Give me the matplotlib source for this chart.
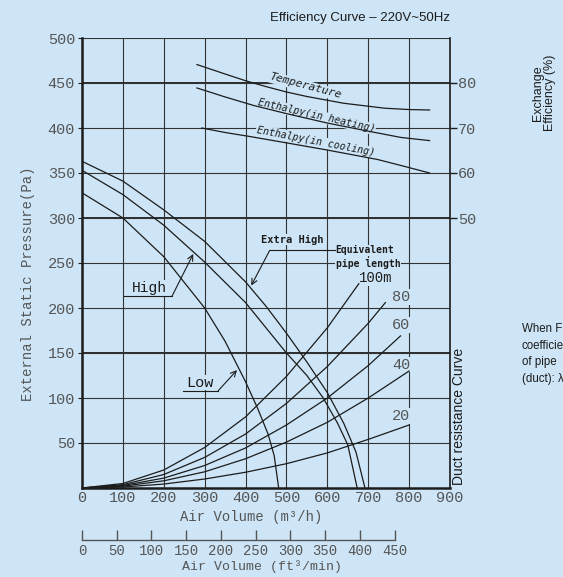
import matplotlib.pyplot as plt

# pressure scale (Pa) and air volume scale (m3/h)
pa_ticks = [50, 100, 150, 200, 250, 300, 350, 400, 450, 500]
m3h_ticks = [0, 100, 200, 300, 400, 500, 600, 700, 800, 900]
cfm_ticks = [0, 50, 100, 150, 200, 250, 300, 350, 400, 450]
eff_ticks = [50, 60, 70, 80]

# fan curves (air volume m3/h, pressure Pa)
xhigh_x = [0, 100, 200, 300, 400, 450, 500, 550, 600, 640, 670, 692]
xhigh_p = [363, 341, 309, 274, 229, 202, 172, 140, 106, 72, 40, 0]
high_x = [0, 100, 200, 300, 400, 450, 500, 550, 590, 625, 650, 673]
high_p = [353, 326, 292, 251, 206, 178, 150, 125, 100, 72, 48, 0]
low_x = [0, 100, 200, 300, 350, 400, 430, 455, 470, 481]
low_p = [328, 300, 257, 200, 163, 118, 88, 60, 36, 0]

# duct resistance curves by equivalent pipe length
duct_100_x = [0, 100, 200, 300, 400, 500, 600, 677]
duct_100_p = [0, 5, 20, 45, 79, 124, 178, 227]
duct_80_x = [0, 100, 200, 300, 400, 500, 600, 700, 742]
duct_80_p = [0, 3.7, 15, 34, 60, 94, 135, 183, 206]
duct_60_x = [0, 100, 200, 300, 400, 500, 600, 700, 779]
duct_60_p = [0, 2.8, 11, 25, 44.5, 70, 100, 136, 169]
duct_40_x = [0, 100, 200, 300, 400, 500, 600, 700, 800]
duct_40_p = [0, 2, 8, 18, 32.5, 51, 73, 100, 130]
duct_20_x = [0, 100, 200, 300, 400, 500, 600, 700, 800]
duct_20_p = [0, 1.1, 4.4, 10, 17.5, 27, 39, 54, 70]

# exchange efficiency curves (air volume m3/h, %)
temp_x = [281, 350, 400, 450, 500, 550, 640, 740, 800, 850]
temp_e = [84.1, 82.0, 80.5, 79.2, 78.0, 77.0, 75.5, 74.4, 74.1, 74.0]
heat_x = [281, 350, 420, 500, 600, 700, 780, 850]
heat_e = [78.9, 76.9, 75.0, 73.2, 71.1, 69.3, 67.9, 67.2]
cool_x = [293, 350, 411, 500, 600, 723, 800, 850]
cool_e = [70.0, 69.0, 68.1, 66.7, 65.1, 63.0, 61.2, 60.0]

bg = '#cde5f6'
ink = '#1c1c1c'
grey = '#555555'
mono = 'Liberation Mono'
cad = 'DejaVu Sans Mono'
sans = 'Liberation Sans'
box = dict(fc=bg, ec='none', pad=0.6)

fig = plt.figure(figsize=(5.63, 5.77), dpi=100, facecolor=bg)
ax = fig.add_axes([82/563, 89/577, 368/563, 450/577])
ax.set_facecolor(bg)
ax.set_xlim(0, 900)
ax.set_ylim(0, 500)
ax.set_xticks(m3h_ticks)
ax.set_yticks(pa_ticks)
ax.tick_params(axis='x', length=0, pad=2, labelsize=11, labelcolor=grey)
ax.tick_params(axis='y', length=3, width=0.8, color=ink, pad=2, labelsize=11, labelcolor=grey)
for lab in ax.get_xticklabels() + ax.get_yticklabels():
    lab.set_family(mono)
ax.spines['top'].set_visible(False)
for s in ['left', 'bottom']:
    ax.spines[s].set_linewidth(1.8)
    ax.spines[s].set_color(ink)
ax.spines['right'].set_linewidth(1.2)
ax.spines['right'].set_color(ink)
ax.grid(True, color='#333333', lw=0.8)
for y in [150, 300, 450]:
    ax.axhline(y, color=ink, lw=1.3, zorder=0.6)

lw = 0.9
ax.plot(xhigh_x, xhigh_p, color=ink, lw=lw, zorder=3)
ax.plot(high_x, high_p, color=ink, lw=lw, zorder=3)
ax.plot(low_x, low_p, color=ink, lw=lw, zorder=3)
for dx, dp in [(duct_100_x, duct_100_p), (duct_80_x, duct_80_p), (duct_60_x, duct_60_p),
               (duct_40_x, duct_40_p), (duct_20_x, duct_20_p)]:
    ax.plot(dx, dp, color=ink, lw=lw, zorder=3)

# fan curve labels
arr = dict(arrowstyle='->', lw=0.8, color=ink, shrinkA=0, shrinkB=0)
ax.text(165, 222, 'High', family=mono, fontsize=10.5, color=ink, ha='center', va='center', bbox=box, zorder=2)
ax.plot([102, 220], [213, 213], color=ink, lw=0.8, zorder=3)
ax.annotate('', xy=(272, 260), xytext=(220, 213), arrowprops=arr, zorder=3)
ax.text(288, 117, 'Low', family=mono, fontsize=11, color=ink, ha='center', va='center', bbox=box, zorder=2)
ax.plot([247, 333], [108, 108], color=ink, lw=0.8, zorder=3)
ax.annotate('', xy=(379, 131), xytext=(333, 108), arrowprops=arr, zorder=3)
ax.text(515, 276, 'Extra High', family=cad, fontsize=7.5, weight='bold', color=ink,
        ha='center', va='center', bbox=box, zorder=2)
ax.plot([459, 618], [264, 264], color=ink, lw=0.8, zorder=3)
ax.annotate('', xy=(414, 225), xytext=(459, 264), arrowprops=arr, zorder=3)
ax.text(620, 264, 'Equivalent', family=cad, fontsize=7, weight='bold', color=ink,
        ha='left', va='center', bbox=box, zorder=2)
ax.text(620, 249, 'pipe length', family=cad, fontsize=7, weight='bold', color=ink,
        ha='left', va='center', bbox=box, zorder=2)
ax.text(718, 233, '100m', family=mono, fontsize=10, color=ink, ha='center', va='center', bbox=box, zorder=2)
for lab, y in [('80', 212), ('60', 181), ('40', 137), ('20', 80)]:
    ax.text(780, y, lab, family=mono, fontsize=11, color=grey, ha='center', va='center', bbox=box, zorder=2)

# efficiency axis
ax2 = ax.twinx()
ax2.set_ylim(-10, 90)
ax2.set_yticks(eff_ticks)
ax2.tick_params(axis='y', length=5, width=1.0, color=ink, pad=1, labelsize=11, labelcolor=grey)
for lab in ax2.get_yticklabels():
    lab.set_family(mono)
for s in ax2.spines.values():
    s.set_visible(False)
ax2.plot(temp_x, temp_e, color=ink, lw=lw, zorder=3)
ax2.plot(heat_x, heat_e, color=ink, lw=lw, zorder=3)
ax2.plot(cool_x, cool_e, color=ink, lw=lw, zorder=3)
ax2.text(545, 79.3, 'Temperature', family=cad, style='italic', fontsize=8, color=ink,
         rotation=-15, rotation_mode='anchor', ha='center', va='center', bbox=box, zorder=2)
ax2.text(573, 72.7, 'Enthalpy(in heating)', family=cad, style='italic', fontsize=7.2, color=ink,
         rotation=-13, rotation_mode='anchor', ha='center', va='center', bbox=box, zorder=2)
ax2.text(571, 67.0, 'Enthalpy(in cooling)', family=cad, style='italic', fontsize=7.2, color=ink,
         rotation=-11, rotation_mode='anchor', ha='center', va='center', bbox=box, zorder=2)

# secondary air volume scale in ft3/min
ax3 = fig.add_axes([82/563, 37/577, 368/563, 0.001])
ax3.patch.set_visible(False)
ax3.set_xlim(0, 900 / 1.699)
ax3.set_xticks(cfm_ticks)
ax3.set_yticks([])
for s in ['top', 'left', 'right']:
    ax3.spines[s].set_visible(False)
ax3.spines['bottom'].set_bounds(0, 450)
ax3.spines['bottom'].set_color(grey)
ax3.spines['bottom'].set_linewidth(1.0)
ax3.tick_params(axis='x', direction='in', length=7, width=1.0, color=grey, pad=3,
                labelsize=10, labelcolor=grey)
for lab in ax3.get_xticklabels():
    lab.set_family(mono)

# axis titles and side notes
fig.text(28/563, 1 - 284/577, 'External Static Pressure(Pa)', family=mono, fontsize=10,
         color=grey, rotation=90, ha='center', va='center')
fig.text(251/563, 1 - 517/577, 'Air Volume (m\u00b3/h)', family=mono, fontsize=10,
         color=grey, ha='center', va='center')
fig.text(262/563, 1 - 567/577, 'Air Volume (ft\u00b3/min)', family=mono, fontsize=9.5,
         color=grey, ha='center', va='center')
fig.text(450/563, 1 - 18/577, 'Efficiency Curve \u2013 220V~50Hz', family=sans, fontsize=9.5,
         color=ink, ha='right', va='center')
fig.text(544/563, 1 - 93/577, 'Exchange\nEfficiency (%)', family=sans, fontsize=9,
         color=ink, rotation=90, ha='center', va='center', linespacing=1.0)
fig.text(459/563, 1 - 416/577, 'Duct resistance Curve', family=sans, fontsize=10,
         color=ink, rotation=90, ha='center', va='center')
# note is cut by the right edge in the source picture; only the visible part is kept
fig.text(522/563, 1 - 354/577, 'When F\ncoefficie\nof pipe\n(duct): \u03bb', family=sans,
         fontsize=8.3, color=ink, ha='left', va='center', linespacing=1.5)

fig.savefig('out.png', dpi=100, facecolor=bg)
